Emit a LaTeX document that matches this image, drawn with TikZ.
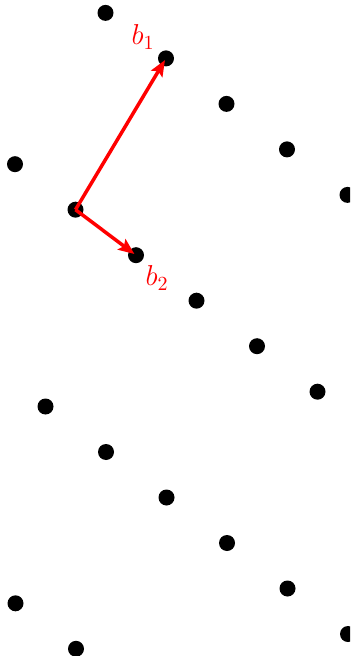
\documentclass[tikz,border=0pt]{standalone}
\usetikzlibrary{arrows.meta}
\begin{document}
\begin{tikzpicture}[x=0.5pt,y=-0.5pt,
  dot/.style={circle,fill=black,inner sep=0pt,minimum size=8pt},
  vec/.style={draw=red,line width=1.75pt,shorten >=1pt,-{Stealth[length=8pt,width=6.5pt,inset=1.5pt]}},
  lab/.style={text=red,font=\Large,inner sep=0pt}]
\useasboundingbox (0,0) rectangle (350,656);
\clip (0,0) rectangle (350,656);
\foreach \m/\a/\b in {1/-1/3, 0/-1/4, -1/1/6, -2/2/3}{
  \foreach \n in {\a,...,\b}{
    \node[dot] (p\m-\n) at ({75.5+90.5*\m+60.5*\n},{209.7-151.3*\m+45.5*\n}) {};
  }
}
\draw[vec] (p0-0.center) -- (p1-0.center);
\draw[vec] (p0-0.center) -- (p0-1.center);
\node[lab] (l1) at (143,37) {$b_1$};
\node[lab] (l2) at (157,278) {$b_2$};
\end{tikzpicture}
\end{document}
